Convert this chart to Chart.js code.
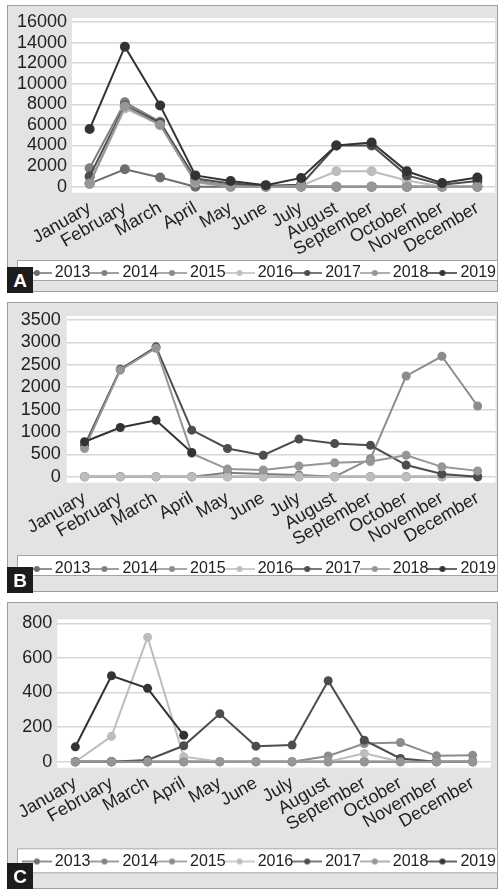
<!DOCTYPE html>
<html>
<head>
<meta charset="utf-8">
<script src="https://cdn.jsdelivr.net/npm/chart.js@4.4.1/dist/chart.umd.min.js"></script>
<style>
  html, body { margin: 0; padding: 0; background: #fff; overflow: hidden; }
  body { width: 500px; height: 889px; position: relative; }
  .painel { position: absolute; left: 7px; width: 491px; box-sizing: border-box; background: #e3e3e3; border: 1.5px solid #9d9d9d; }
  .quadro { position: absolute; left: 0; }
  .letra { position: absolute; left: 7px; width: 26px; height: 26px; background: #1c1c1c; color: #fff;
           font: bold 19px "Liberation Sans", Arial, sans-serif; text-align: center; line-height: 28px; }
</style>
</head>
<body>
<div class="painel" style="top:5px;height:287px"></div>
<div class="painel" style="top:302px;height:290px"></div>
<div class="painel" style="top:602px;height:287px"></div>
<canvas id="grafico-a" class="quadro" style="top:5px" width="500" height="300"></canvas>
<canvas id="grafico-b" class="quadro" style="top:302px" width="500" height="300"></canvas>
<canvas id="grafico-c" class="quadro" style="top:602px" width="500" height="300"></canvas>
<div class="letra" style="top:267px">A</div>
<div class="letra" style="top:567px">B</div>
<div class="letra" style="top:863px">C</div>
<script>
const meses = ["January", "February", "March", "April", "May", "June", "July",
  "August", "September", "October", "November", "December"];
const anos = ["2013", "2014", "2015", "2016", "2017", "2018", "2019"];
const cores = ["#6e6e6e", "#7f7f7f", "#8c8c8c", "#bdbdbd", "#4d4d4d", "#969696", "#333333"];

// Painel A
const a2013 = [300, 1700, 900, 0, 0, 0, 0, 0, 0, 0, 0, 0];
const a2014 = [1800, 8200, 6300, 600, 100, 0, 100, 0, 0, 0, 0, 0];
const a2015 = [300, 7700, 6100, 500, 100, 0, 0, 0, 0, 0, 0, 0];
const a2016 = [300, 7600, 6000, 400, 0, 0, 100, 1500, 1500, 600, 0, 0];
const a2017 = [1000, 7900, 6200, 800, 300, 100, 200, 4000, 4000, 1100, 200, 550];
const a2018 = [300, 7800, 6000, 500, 0, 0, 100, 0, 0, 0, 0, 0];
const a2019 = [5600, 13600, 7900, 1100, 550, 150, 850, 4000, 4300, 1500, 350, 900];
const maxA = 16000, passoA = 2000;

// Painel B
const b2013 = [0, 0, 0, 0, 0, 0, 0, 0, 0, 0, 0, 0];
const b2014 = [0, 0, 0, 0, 90, 60, 40, 0, 0, 0, 0, 0];
const b2015 = [0, 0, 0, 0, 0, 0, 0, 0, 400, 2250, 2690, 1580];
const b2016 = [0, 0, 0, 0, 0, 0, 0, 0, 0, 0, 0, 0];
const b2017 = [700, 2400, 2900, 1040, 630, 480, 840, 740, 700, 260, 60, 0];
const b2018 = [630, 2380, 2870, 520, 170, 150, 240, 310, 340, 480, 220, 130];
const b2019 = [780, 1100, 1260, 540, null, null, null, null, null, null, null, null];
const maxB = 3500, passoB = 500;

// Painel C
const c2013 = [0, 0, 0, 0, 0, 0, 0, 0, 0, 0, 0, 0];
const c2014 = [0, 0, 0, 0, 0, 0, 0, 0, 0, 0, 0, 0];
const c2015 = [0, 0, 0, 0, 0, 0, 0, 33, 105, 111, 34, 38];
const c2016 = [0, 147, 720, 29, 0, 0, 0, 0, 48, 0, 0, 0];
const c2017 = [0, 0, 10, 92, 277, 90, 96, 468, 124, 19, 0, 0];
const c2018 = [0, 0, 0, 0, 0, 0, 0, 0, 0, 0, 0, 0];
const c2019 = [86, 497, 424, 153, null, null, null, null, null, null, null, null];
const maxC = 800, passoC = 200;

Chart.defaults.font.family = "'Liberation Sans', Arial, sans-serif";
Chart.defaults.color = "#222222";

// simbolo da legenda: linha com bolinha
function simbolo(cor) {
  const c = document.createElement("canvas");
  c.width = 30;
  c.height = 10;
  const ctx = c.getContext("2d");
  ctx.strokeStyle = cor;
  ctx.lineWidth = 1.5;
  ctx.beginPath();
  ctx.moveTo(0, 5);
  ctx.lineTo(30, 5);
  ctx.stroke();
  ctx.fillStyle = cor;
  ctx.beginPath();
  ctx.arc(15, 5, 3, 0, 2 * Math.PI);
  ctx.fill();
  return c;
}
const simbolos = cores.map(simbolo);

// fundo branco da area do grafico e caixa da legenda
const caixaLegenda = {
  id: "caixaLegenda",
  afterLayout(chart) {
    chart.legend.left = 0;
    chart.legend.right = 500;
  },
  beforeDraw(chart, args, opts) {
    const ctx = chart.ctx;
    const area = chart.chartArea;
    const lg = chart.legend;
    ctx.save();
    ctx.fillStyle = "#ffffff";
    ctx.fillRect(area.left, area.top - 4, area.right - area.left, area.bottom - area.top + 10);
    ctx.fillRect(17, lg.top + opts.dy, 481, opts.h);
    ctx.strokeStyle = "#a3a3a3";
    ctx.lineWidth = 1;
    ctx.strokeRect(17.5, lg.top + opts.dy + 0.5, 480, opts.h - 1);
    ctx.restore();
  }
};

function grafico(el, series, max, passo, cfg) {
  return new Chart(el, {
    type: "line",
    data: {
      labels: meses,
      datasets: series.map((s, i) => ({
        label: anos[i],
        data: s,
        order: series.length - 1 - i,
        borderColor: cores[i],
        backgroundColor: cores[i],
        pointBackgroundColor: cores[i],
        borderWidth: 2,
        pointRadius: cfg.raio,
        pointBorderWidth: 0,
        clip: false
      }))
    },
    options: {
      responsive: false,
      animation: false,
      layout: { padding: { top: cfg.topo, right: cfg.direita, bottom: cfg.baixo, left: 0 } },
      scales: {
        x: {
          offset: true,
          grid: { display: false },
          border: { display: false },
          ticks: { font: { size: 18 }, color: "#222", minRotation: 30, maxRotation: 30, autoSkip: false, padding: 3 },
          afterFit: (scale) => { scale.height = cfg.alturaX; }
        },
        y: {
          min: 0,
          max: max,
          grid: { color: "#d6d6d6", lineWidth: 1.5, drawTicks: false },
          border: { display: false },
          ticks: {
            stepSize: passo,
            autoSkip: false,
            font: { size: 18 },
            color: "#222",
            padding: cfg.pad,
            callback: (v) => String(v)
          },
          afterFit: (scale) => { scale.width = cfg.larguraY; }
        }
      },
      plugins: {
        tooltip: { enabled: false },
        legend: {
          position: "bottom",
          align: "end",
          labels: {
            usePointStyle: true,
            pointStyleWidth: 20,
            padding: 4,
            color: "#222",
            font: { size: 16 },
            sort: (a, b) => a.datasetIndex - b.datasetIndex,
            generateLabels: (chart) => {
              const itens = Chart.defaults.plugins.legend.labels.generateLabels(chart);
              itens.forEach((it) => { it.pointStyle = simbolos[it.datasetIndex]; });
              return itens;
            }
          }
        },
        caixaLegenda: { dy: cfg.dy, h: cfg.h }
      }
    },
    plugins: [caixaLegenda]
  });
}

grafico(document.getElementById("grafico-a"),
  [a2013, a2014, a2015, a2016, a2017, a2018, a2019], maxA, passoA,
  { raio: 5, topo: 17, direita: 5, baixo: 14, alturaX: 74.3, larguraY: 72, pad: 5, dy: -1, h: 21 });

grafico(document.getElementById("grafico-b"),
  [b2013, b2014, b2015, b2016, b2017, b2018, b2019], maxB, passoB,
  { raio: 4.5, topo: 18, direita: 3.3, baixo: 15, alturaX: 80.3, larguraY: 66.7, pad: 6, dy: -2, h: 21 });

grafico(document.getElementById("grafico-c"),
  [c2013, c2014, c2015, c2016, c2017, c2018, c2019], maxC, passoC,
  { raio: 4.5, topo: 21.3, direita: 9.3, baixo: 22.5, alturaX: 87.8, larguraY: 57.3, pad: 5, dy: -1.2, h: 25 });
</script>
</body>
</html>
